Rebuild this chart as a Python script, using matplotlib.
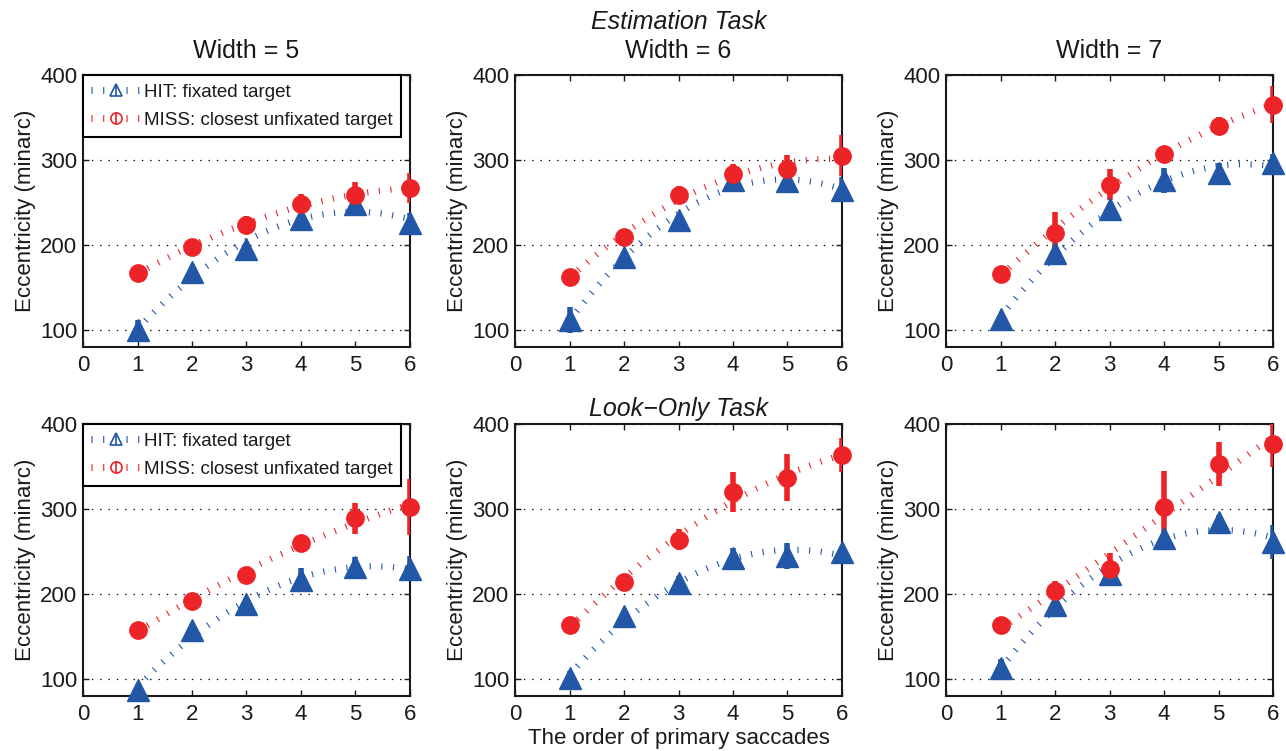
import numpy as np
import matplotlib.pyplot as plt
from matplotlib.lines import Line2D
from matplotlib.legend_handler import HandlerTuple

plt.rcParams['font.family'] = ['Liberation Sans', 'DejaVu Sans']
plt.rcParams['lines.scale_dashes'] = False

# data
order = [1, 2, 3, 4, 5, 6]
widths = [5, 6, 7]

# Estimation task
est_hit_w5 = [100, 168, 195, 230, 248, 226]
est_hit_w5_err = [12, 5, 6, 10, 12, 12]
est_miss_w5 = [167, 198, 224, 248, 259, 267]
est_miss_w5_err = [3, 4, 10, 12, 15, 18]

est_hit_w6 = [112, 186, 229, 276, 275, 265]
est_hit_w6_err = [15, 4, 6, 8, 12, 15]
est_miss_w6 = [162, 209, 259, 283, 289, 305]
est_miss_w6_err = [2, 10, 10, 12, 17, 24]

est_hit_w7 = [113, 190, 242, 276, 285, 297]
est_hit_w7_err = [5, 10, 5, 15, 12, 10]
est_miss_w7 = [166, 214, 271, 307, 340, 365]
est_miss_w7_err = [3, 25, 18, 10, 10, 22]

# Look-only task
look_hit_w5 = [87, 158, 188, 217, 232, 230]
look_hit_w5_err = [4, 4, 4, 14, 12, 15]
look_miss_w5 = [158, 192, 222, 260, 289, 302]
look_miss_w5_err = [2, 2, 4, 6, 18, 33]

look_hit_w6 = [101, 174, 213, 242, 245, 249]
look_hit_w6_err = [8, 3, 8, 12, 15, 3]
look_miss_w6 = [164, 214, 264, 320, 337, 363]
look_miss_w6_err = [2, 3, 12, 23, 28, 20]

look_hit_w7 = [113, 187, 223, 266, 285, 261]
look_hit_w7_err = [10, 8, 4, 8, 8, 20]
look_miss_w7 = [163, 203, 229, 302, 353, 376]
look_miss_w7_err = [2, 12, 19, 43, 26, 27]

blue = '#2157a6'
red = '#ec2327'
txt = '#1a1a1a'
dash = (0, (0.8, 7.6))

panels = [
    [(est_hit_w5, est_hit_w5_err, est_miss_w5, est_miss_w5_err),
     (est_hit_w6, est_hit_w6_err, est_miss_w6, est_miss_w6_err),
     (est_hit_w7, est_hit_w7_err, est_miss_w7, est_miss_w7_err)],
    [(look_hit_w5, look_hit_w5_err, look_miss_w5, look_miss_w5_err),
     (look_hit_w6, look_hit_w6_err, look_miss_w6, look_miss_w6_err),
     (look_hit_w7, look_hit_w7_err, look_miss_w7, look_miss_w7_err)],
]

W, H = 1286, 751
fig = plt.figure(figsize=(W / 100, H / 100), dpi=100)

lefts = [83, 515, 946]
tops = [75, 424]
aw, ah = 327, 272


def fy(y):
    return 1 - y / H


def fx(x):
    return x / W


def draw_series(ax, vals, err, color, marker, ms):
    xs = np.linspace(1, 6, 200)
    coef = np.polyfit(order, vals, 2)
    ax.plot(xs, np.polyval(coef, xs), color=color, lw=4.5, ls=dash, zorder=2)
    ax.errorbar(order, vals, yerr=err, fmt='none', ecolor=color,
                elinewidth=4, capsize=0, zorder=3)
    ax.plot(order, vals, ls='none', marker=marker, ms=ms, color=color,
            mec=color, zorder=4, clip_on=False)


axes = []
for r in range(2):
    for c in range(3):
        ax = fig.add_axes([fx(lefts[c]), fy(tops[r] + ah), fx(aw), ah / H])
        hit, hit_err, miss, miss_err = panels[r][c]
        draw_series(ax, hit, hit_err, blue, '^', 16)
        draw_series(ax, miss, miss_err, red, 'o', 12.5)
        ax.set_xlim(0, 6)
        ax.set_ylim(80, 400)
        ax.set_xticks(range(7))
        ax.set_yticks([100, 200, 300, 400])
        ax.tick_params(direction='in', top=True, right=True, length=4,
                       width=1, labelsize=16, colors=txt, labelcolor=txt)
        ax.tick_params(axis='x', pad=6)
        ax.tick_params(axis='y', pad=4)
        ax.yaxis.grid(True, ls=(0, (1, 5)), color='k', lw=0.9)
        ax.set_axisbelow(True)
        for s in ax.spines.values():
            s.set_linewidth(1.5)
            s.set_color(txt)
        ax.set_ylabel('Eccentricity (minarc)', fontsize=16, color=txt,
                      labelpad=3)
        axes.append(ax)

# legends in the left column
for ax in [axes[0], axes[3]]:
    hit_h = (Line2D([], [], color=blue, lw=5, ls=dash),
             Line2D([], [], color=blue, marker='^', mfc='white', mew=1.2,
                    ms=9, ls='none'),
             Line2D([], [], color=blue, marker='|', mew=1.2, ms=9, ls='none'))
    miss_h = (Line2D([], [], color=red, lw=5, ls=dash),
              Line2D([], [], color=red, marker='o', mfc='white', mew=1.2,
                     ms=8, ls='none'),
              Line2D([], [], color=red, marker='|', mew=1.2, ms=9, ls='none'))
    leg = ax.legend([hit_h, miss_h],
                    ['HIT: fixated target', 'MISS: closest unfixated target'],
                    handler_map={tuple: HandlerTuple(ndivide=1, pad=0)},
                    loc='upper left', bbox_to_anchor=(0, 1), borderaxespad=0,
                    fontsize=13.5, handlelength=2.6, handletextpad=0.2,
                    fancybox=False, edgecolor='k', framealpha=1,
                    borderpad=0.45, labelspacing=0.6)
    leg.get_frame().set_linewidth(1.5)
    for t in leg.get_texts():
        t.set_color(txt)

# titles
centers = [l + aw / 2 for l in lefts]
for c, w in enumerate(widths):
    fig.text(fx(centers[c]), fy(58), f'Width = {w}', ha='center',
             va='baseline', fontsize=18, color=txt)
fig.text(fx(centers[1]), fy(29), 'Estimation Task', ha='center',
         va='baseline', fontsize=18, style='italic', color=txt)
fig.text(fx(centers[1]), fy(416), 'Look\u2212Only Task', ha='center',
         va='baseline', fontsize=18, style='italic', color=txt)
fig.text(fx(centers[1]), fy(744), 'The order of primary saccades',
         ha='center', va='baseline', fontsize=16, color=txt)

fig.savefig('out.png', dpi=100)
